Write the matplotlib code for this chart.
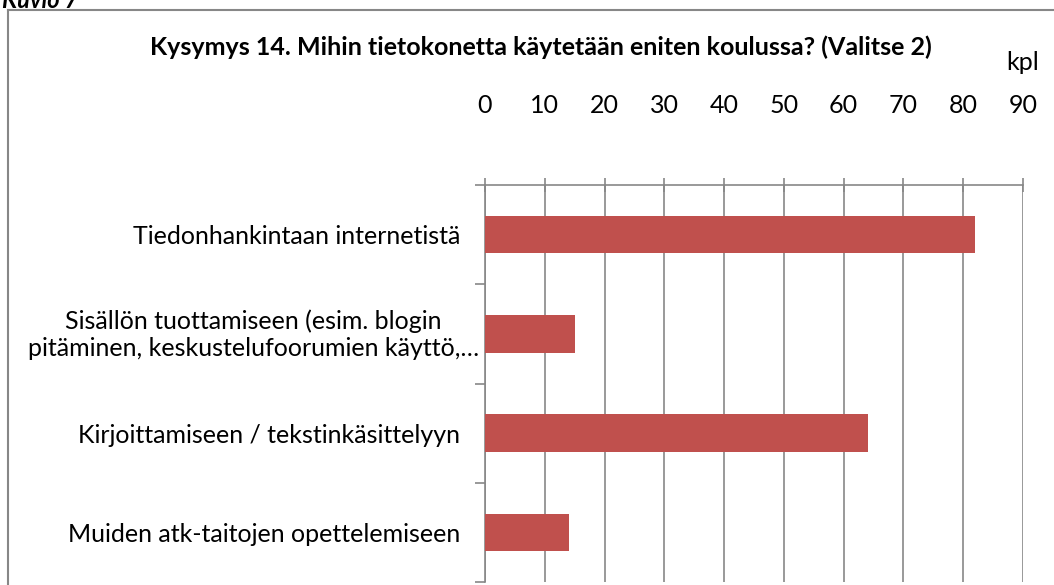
import numpy as np
import matplotlib.pyplot as plt
from matplotlib.lines import Line2D
from matplotlib.transforms import ScaledTranslation

plt.rcParams['font.family'] = ['Lato', 'DejaVu Sans']

# data
kategoriat = [
    "Tiedonhankintaan internetistä",
    "Sisällön tuottamiseen (esim. blogin\npitäminen, keskustelufoorumien käyttö,…",
    "Kirjoittamiseen / tekstinkäsittelyyn",
    "Muiden atk-taitojen opettelemiseen",
]
arvot = [82, 15, 64, 14]
xtiks = list(range(0, 100, 10))

W, H = 1054, 585
fig = plt.figure(figsize=(W / 100, H / 100), dpi=100)

# chart frame (right and bottom edges fall outside the picture)
fig.add_artist(Line2D([8 / W, 8 / W], [0, 1 - 9.5 / H], color="#878787", lw=1.5))
fig.add_artist(Line2D([8 / W, 1], [1 - 9.5 / H, 1 - 9.5 / H], color="#878787", lw=1.5))
fig.text(2 / W, 1 - 1 / H, "Kuvio 7", fontsize=17, fontweight="bold", style="italic",
         va="center", ha="left")

fig.text(541 / W, 1 - 47 / H, "Kysymys 14. Mihin tietokonetta käytetään eniten koulussa? (Valitse 2)",
         fontsize=18, fontweight="bold", ha="center", va="center")

x0, x1 = 485, 1023
y0, y1 = 185, 582
ax = fig.add_axes([x0 / W, 1 - y1 / H, (x1 - x0) / W, (y1 - y0) / H])

pos = np.arange(len(kategoriat))
ax.barh(pos, arvot, height=0.38, color="#C0504D", zorder=3)
ax.set_xlim(0, 90)
ax.set_ylim(len(kategoriat) - 0.5, -0.5)

ax.xaxis.tick_top()
ax.set_xticks(xtiks)
ax.tick_params(axis="x", direction="inout", length=10, width=1.2, color="#878787",
               labelsize=18, pad=44)
ax.grid(axis="x", color="#878787", lw=1.2, zorder=0)

ax.set_yticks(pos)
ax.set_yticklabels(kategoriat, multialignment="center")
ax.set_yticks(np.arange(-0.5, len(kategoriat)), minor=True)
ax.tick_params(axis="y", which="major", length=0, labelsize=18, pad=18)
ax.tick_params(axis="y", which="minor", length=7, width=1.2, color="#878787")

# the long two-line label reaches closer to the axis
lab = ax.yaxis.get_major_ticks()[1].label1
lab.set_transform(lab.get_transform() + ScaledTranslation(0.19, 0.03, fig.dpi_scale_trans))

for s in ["right", "bottom"]:
    ax.spines[s].set_visible(False)
for s in ["top", "left"]:
    ax.spines[s].set_color("#878787")
    ax.spines[s].set_linewidth(1.2)

fig.text(x1 / W, 1 - 62 / H, "kpl", fontsize=18, ha="center", va="center")

fig.savefig("out.png", dpi=100)
